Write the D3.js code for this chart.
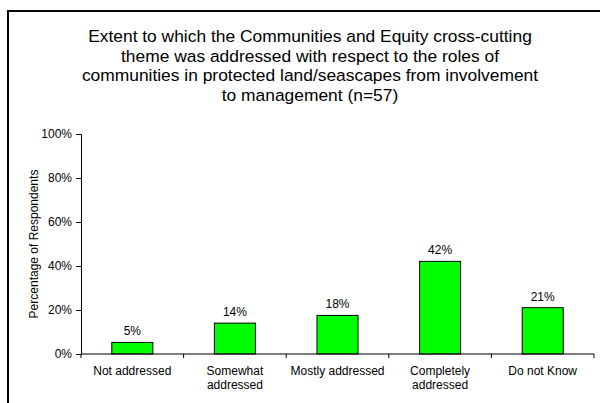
<!DOCTYPE html>
<html>
<head>
<meta charset="utf-8">
<script src="https://cdn.jsdelivr.net/npm/d3@7"></script>
<style>
  body { margin: 0; background: #fff; }
  text { font-family: Arial, "Liberation Sans", sans-serif; fill: #000; }
</style>
</head>
<body>
<svg id="chart" width="600" height="403"></svg>
<script>
// data (n=57)
var categories = [["Not addressed"], ["Somewhat", "addressed"], ["Mostly addressed"], ["Completely", "addressed"], ["Do not Know"]];
var values = [3 / 57, 8 / 57, 10 / 57, 24 / 57, 12 / 57];
var yTicks = [0, 0.2, 0.4, 0.6, 0.8, 1];
var titleLines = [
  "Extent to which the Communities and Equity cross-cutting",
  "theme was addressed with respect to the roles of",
  "communities in protected land/seascapes from involvement",
  "to management (n=57)"
];

var svg = d3.select("#chart");

// outer frame, runs off right and bottom
svg.append("rect")
    .attr("x", 8).attr("y", 11)
    .attr("width", 700).attr("height", 500)
    .attr("fill", "none")
    .attr("stroke", "#000")
    .attr("stroke-width", 2);

var title = svg.append("text")
    .attr("text-anchor", "middle")
    .style("font-size", "17.4px");
titleLines.forEach(function(t, i) {
  title.append("tspan")
      .attr("x", 310)
      .attr("y", 42 + i * 19.5)
      .text(t);
});

var plotL = 81, plotR = 594, plotT = 134, plotB = 354;

var x = d3.scaleBand()
    .domain(d3.range(categories.length))
    .range([plotL, plotR])
    .paddingInner(0.6)
    .paddingOuter(0.3);

var y = d3.scaleLinear()
    .domain([0, 1])
    .range([plotB, plotT]);

// y axis
var yAxis = svg.append("g")
    .attr("transform", "translate(" + plotL + ",0)")
    .call(d3.axisLeft(y).tickValues(yTicks).tickFormat(d3.format(".0%")).tickSize(5).tickPadding(4));
yAxis.select(".domain").attr("stroke", "#000");
yAxis.selectAll("text").style("font-size", "12px").style("font-family", "Arial, 'Liberation Sans', sans-serif");

svg.append("text")
    .attr("transform", "translate(38," + ((plotT + plotB) / 2) + ") rotate(-90)")
    .attr("text-anchor", "middle")
    .style("font-size", "12px")
    .text("Percentage of Respondents");

// bars
svg.append("g").selectAll("rect")
    .data(values)
    .enter().append("rect")
    .attr("x", function(d, i) { return x(i); })
    .attr("y", function(d) { return y(d); })
    .attr("width", x.bandwidth())
    .attr("height", function(d) { return y(0) - y(d); })
    .attr("fill", "#00ff00")
    .attr("stroke", "#000")
    .attr("stroke-width", 1);

svg.append("g").selectAll("text")
    .data(values)
    .enter().append("text")
    .attr("x", function(d, i) { return x(i) + x.bandwidth() / 2; })
    .attr("y", function(d) { return y(d) - 7; })
    .attr("text-anchor", "middle")
    .style("font-size", "12px")
    .text(function(d) { return Math.round(d * 100) + "%"; });

// x axis with ticks between categories
var step = (plotR - plotL) / categories.length;
var xAxisG = svg.append("g");
xAxisG.append("line")
    .attr("x1", plotL).attr("x2", plotR)
    .attr("y1", plotB).attr("y2", plotB)
    .attr("stroke", "#000");
xAxisG.selectAll("line.tick")
    .data(d3.range(categories.length + 1))
    .enter().append("line")
    .attr("class", "tick")
    .attr("x1", function(d) { return plotL + d * step; })
    .attr("x2", function(d) { return plotL + d * step; })
    .attr("y1", plotB).attr("y2", plotB + 4)
    .attr("stroke", "#000");

var labels = xAxisG.selectAll("text")
    .data(categories)
    .enter().append("text")
    .attr("text-anchor", "middle")
    .style("font-size", "12px");
labels.each(function(lines, i) {
  var t = d3.select(this);
  lines.forEach(function(l, j) {
    t.append("tspan")
        .attr("x", x(i) + x.bandwidth() / 2)
        .attr("y", 375 + j * 13.5)
        .text(l);
  });
});
</script>
</body>
</html>
